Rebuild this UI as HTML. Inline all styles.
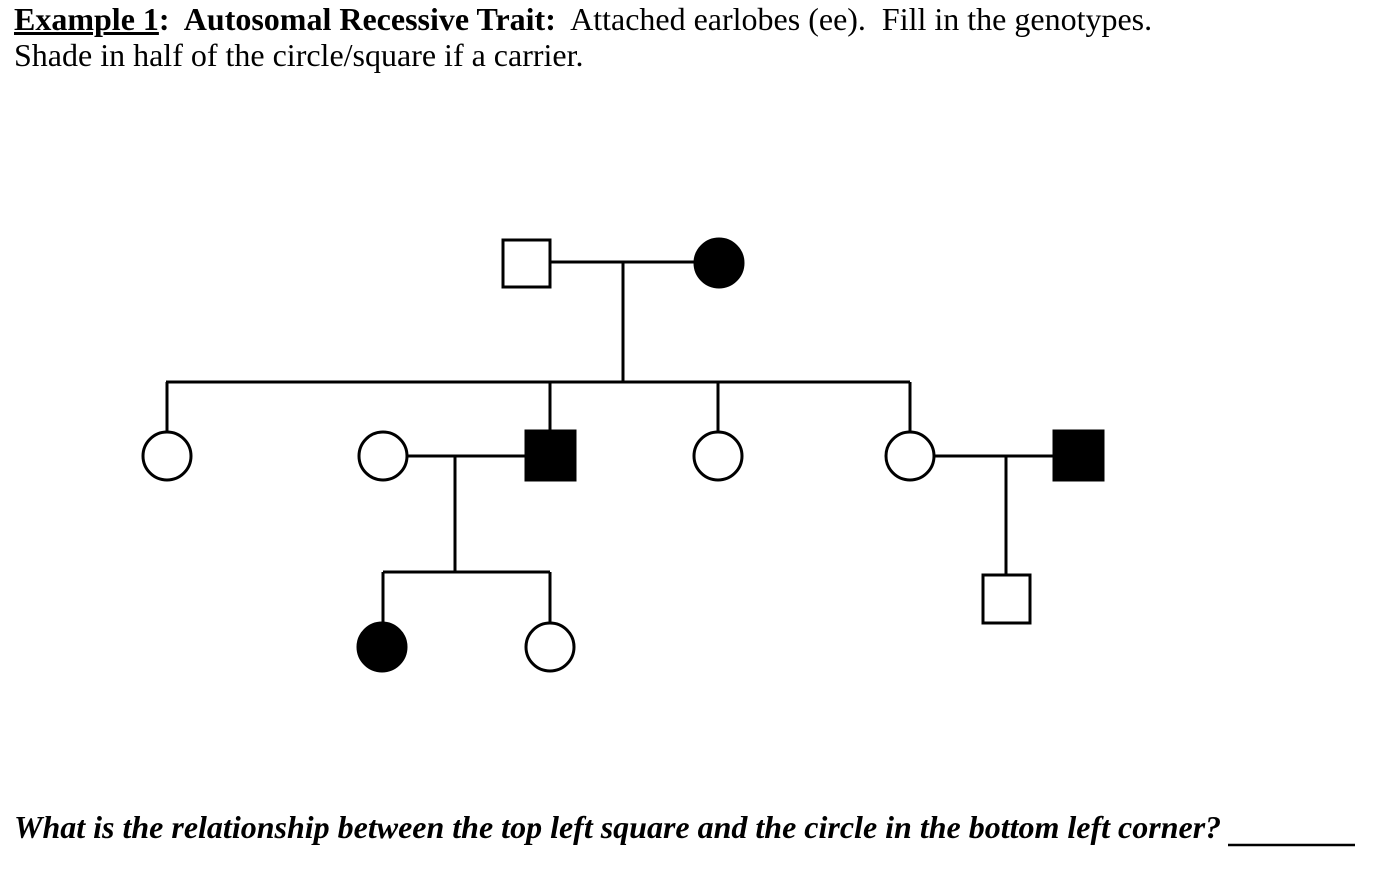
<!DOCTYPE html>
<html><head><meta charset="utf-8"><style>
html,body{margin:0;padding:0;background:#fff;width:1384px;height:882px;overflow:hidden;position:relative}
.t{position:absolute;font-family:"Liberation Serif",serif;color:#000;white-space:nowrap}
svg{position:absolute;left:0;top:0}
</style></head><body>
<div class="t" style="left:14px;top:1px;font-size:32px;line-height:36px"><b><u>Example 1</u>:&nbsp; Autosomal Recessive Trait:</b>&nbsp; Attached earlobes (ee).&nbsp; Fill in the genotypes.</div>
<div class="t" style="left:14px;top:37px;font-size:32px;line-height:36px">Shade in half of the circle/square if a carrier.</div>
<div class="t" style="left:14px;top:809px;font-size:32px;line-height:36px"><b><i>What is the relationship between the top left square and the circle in the bottom left corner?</i></b></div>
<svg width="1384" height="882" viewBox="0 0 1384 882" fill="none" stroke="#000" stroke-width="3">
<line x1="1228" y1="845" x2="1355" y2="845" stroke-width="2.5"/>
<rect x="503" y="240" width="47" height="47" fill="#fff"/>
<line x1="550" y1="262" x2="696" y2="262"/>
<circle cx="719" cy="263" r="24" fill="#000"/>
<line x1="623" y1="262" x2="623" y2="382"/>
<line x1="166" y1="382" x2="910" y2="382"/>
<line x1="167" y1="382" x2="167" y2="432"/>
<line x1="550" y1="382" x2="550" y2="431"/>
<line x1="718" y1="382" x2="718" y2="432"/>
<line x1="910" y1="382" x2="910" y2="432"/>
<circle cx="167" cy="456" r="24" fill="#fff"/>
<circle cx="383" cy="456" r="24" fill="#fff"/>
<rect x="526" y="431" width="49" height="49" fill="#000"/>
<line x1="407" y1="456" x2="526" y2="456"/>
<line x1="455" y1="456" x2="455" y2="572"/>
<line x1="383" y1="572" x2="550" y2="572"/>
<line x1="383" y1="572" x2="383" y2="623"/>
<line x1="550" y1="572" x2="550" y2="623"/>
<circle cx="382" cy="647" r="24" fill="#000"/>
<circle cx="550" cy="647" r="24" fill="#fff"/>
<circle cx="718" cy="456" r="24" fill="#fff"/>
<circle cx="910" cy="456" r="24" fill="#fff"/>
<line x1="934" y1="456" x2="1054" y2="456"/>
<rect x="1054" y="431" width="49" height="49" fill="#000"/>
<line x1="1006" y1="456" x2="1006" y2="575"/>
<rect x="983" y="575" width="47" height="48" fill="#fff"/>
</svg>
</body></html>
